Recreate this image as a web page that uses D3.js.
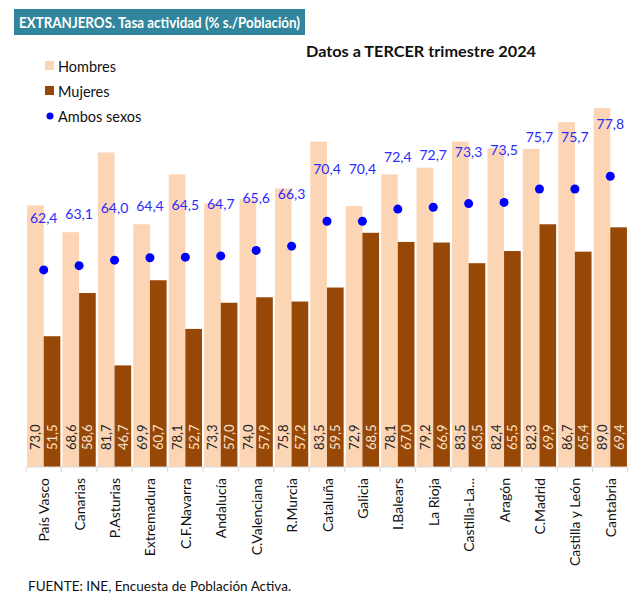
<!DOCTYPE html>
<html>
<head>
<meta charset="utf-8">
<script src="https://cdn.jsdelivr.net/npm/d3@7"></script>
<style>
  body { margin: 0; background: #fff; }
  text { font-family: Lato, "Open Sans", sans-serif; }
</style>
</head>
<body>
<div id="chart"></div>
<script>
var width = 634
var height = 595

var regiones = ['País Vasco', 'Canarias', 'P.Asturias', 'Extremadura', 'C.F.Navarra', 'Andalucía',
  'C.Valenciana', 'R.Murcia', 'Cataluña', 'Galicia', 'I.Balears', 'La Rioja', 'Castilla-La...',
  'Aragón', 'C.Madrid', 'Castilla y León', 'Cantabria'];
var hombres = [73.0, 68.6, 81.7, 69.9, 78.1, 73.3, 74.0, 75.8, 83.5, 72.9, 78.1, 79.2, 83.5, 82.4, 82.3, 86.7, 89.0];
var mujeres = [51.5, 58.6, 46.7, 60.7, 52.7, 57.0, 57.9, 57.2, 59.5, 68.5, 67.0, 66.9, 63.5, 65.5, 69.9, 65.4, 69.4];
var ambos = [62.4, 63.1, 64.0, 64.4, 64.5, 64.7, 65.6, 66.3, 70.4, 70.4, 72.4, 72.7, 73.3, 73.5, 75.7, 75.7, 77.8];

var colHombres = '#fcd5b5';
var colMujeres = '#974706';
var colAmbos = '#0000ff';

var fmt = function(v) { return v.toFixed(1).replace('.', ','); };

var svg = d3.select('#chart')
            .append('svg')
            .attr('width', width)
            .attr('height', height);

// titulo
svg.append('rect')
   .attr('x', 14).attr('y', 9)
   .attr('width', 291).attr('height', 26)
   .attr('fill', '#31859c');
svg.append('text')
   .attr('x', 19).attr('y', 28)
   .attr('fill', '#fff')
   .attr('font-weight', 'bold')
   .attr('font-size', 15)
   .attr('textLength', 281)
   .attr('lengthAdjust', 'spacingAndGlyphs')
   .text('EXTRANJEROS. Tasa actividad (% s./Población)');

svg.append('text')
   .attr('x', 421).attr('y', 57)
   .attr('text-anchor', 'middle')
   .attr('font-weight', 'bold')
   .attr('font-size', 15)
   .attr('textLength', 230)
   .attr('lengthAdjust', 'spacingAndGlyphs')
   .attr('fill', '#111')
   .text('Datos a TERCER trimestre 2024');

// leyenda
var legend = [
  { name: 'Hombres', color: colHombres, type: 'rect', y: 66 },
  { name: 'Mujeres', color: colMujeres, type: 'rect', y: 91 },
  { name: 'Ambos sexos', color: colAmbos, type: 'dot', y: 116 }
];
var lg = svg.selectAll('g.leg').data(legend).enter().append('g').attr('class', 'leg');
lg.filter(function(d) { return d.type == 'rect'; })
  .append('rect')
  .attr('x', 45).attr('y', function(d) { return d.y - 5; })
  .attr('width', 9).attr('height', 9)
  .attr('fill', function(d) { return d.color; });
lg.filter(function(d) { return d.type == 'dot'; })
  .append('circle')
  .attr('cx', 50).attr('cy', function(d) { return d.y; })
  .attr('r', 3.5)
  .attr('fill', function(d) { return d.color; });
lg.append('text')
  .attr('x', 58).attr('y', function(d) { return d.y + 5.5; })
  .attr('font-size', 14.5)
  .attr('fill', '#111')
  .text(function(d) { return d.name; });

// escalas
var x = d3.scaleBand().domain(regiones).range([26, 628]).paddingInner(0.06).paddingOuter(0.03);
var y = d3.scaleLinear().domain([30, 90]).range([467, 102]);
var half = x.bandwidth() / 2;

var g = svg.selectAll('g.reg')
           .data(regiones.map(function(r, i) {
             return { name: r, h: hombres[i], m: mujeres[i], a: ambos[i] };
           }))
           .enter()
           .append('g')
           .attr('class', 'reg');

g.append('rect')
 .attr('x', function(d) { return x(d.name); })
 .attr('y', function(d) { return y(d.h); })
 .attr('width', half)
 .attr('height', function(d) { return y(30) - y(d.h); })
 .attr('fill', colHombres);

g.append('rect')
 .attr('x', function(d) { return x(d.name) + half; })
 .attr('y', function(d) { return y(d.m); })
 .attr('width', half)
 .attr('height', function(d) { return y(30) - y(d.m); })
 .attr('fill', colMujeres);

g.append('text')
 .attr('transform', function(d) { return 'translate(' + (x(d.name) + half / 2) + ',450) rotate(-90)'; })
 .attr('dominant-baseline', 'central')
 .attr('font-size', 13)
 .attr('fill', '#262626')
 .text(function(d) { return fmt(d.h); });

g.append('text')
 .attr('transform', function(d) { return 'translate(' + (x(d.name) + half * 1.5) + ',450) rotate(-90)'; })
 .attr('dominant-baseline', 'central')
 .attr('font-size', 13)
 .attr('fill', '#fbe3cf')
 .text(function(d) { return fmt(d.m); });

g.append('circle')
 .attr('cx', function(d) { return x(d.name) + half; })
 .attr('cy', function(d) { return y(d.a); })
 .attr('r', 4.5)
 .attr('fill', colAmbos);

g.append('text')
 .attr('x', function(d) { return x(d.name) + half; })
 .attr('y', function(d) { return y(d.a) - 47; })
 .attr('text-anchor', 'middle')
 .attr('font-size', 14)
 .attr('fill', '#2a2aff')
 .text(function(d) { return fmt(d.a); });

// eje
var axis = svg.append('g')
              .attr('transform', 'translate(0,467)')
              .call(d3.axisBottom(x).tickSize(0).tickPadding(0));
axis.select('.domain').remove();
axis.selectAll('text').remove();
axis.append('line')
    .attr('x1', 26).attr('x2', 628)
    .attr('stroke', '#d9d9d9');
var step = x.step();
axis.selectAll('line.tk')
    .data(d3.range(regiones.length + 1))
    .enter()
    .append('line')
    .attr('class', 'tk')
    .attr('x1', function(i) { return x(regiones[0]) - x.paddingOuter() * step + i * step; })
    .attr('x2', function(i) { return x(regiones[0]) - x.paddingOuter() * step + i * step; })
    .attr('y1', 0).attr('y2', 5)
    .attr('stroke', '#d9d9d9');

axis.selectAll('text.cat')
    .data(regiones)
    .enter()
    .append('text')
    .attr('class', 'cat')
    .attr('transform', function(d) { return 'translate(' + (x(d) + half) + ',11) rotate(-90)'; })
    .attr('text-anchor', 'end')
    .attr('dominant-baseline', 'central')
    .attr('font-size', 14)
    .attr('fill', '#111')
    .text(function(d) { return d; });

svg.append('text')
   .attr('x', 28).attr('y', 591)
   .attr('font-size', 13.5)
   .attr('fill', '#111')
   .text('FUENTE: INE, Encuesta de Población Activa.');
</script>
</body>
</html>
